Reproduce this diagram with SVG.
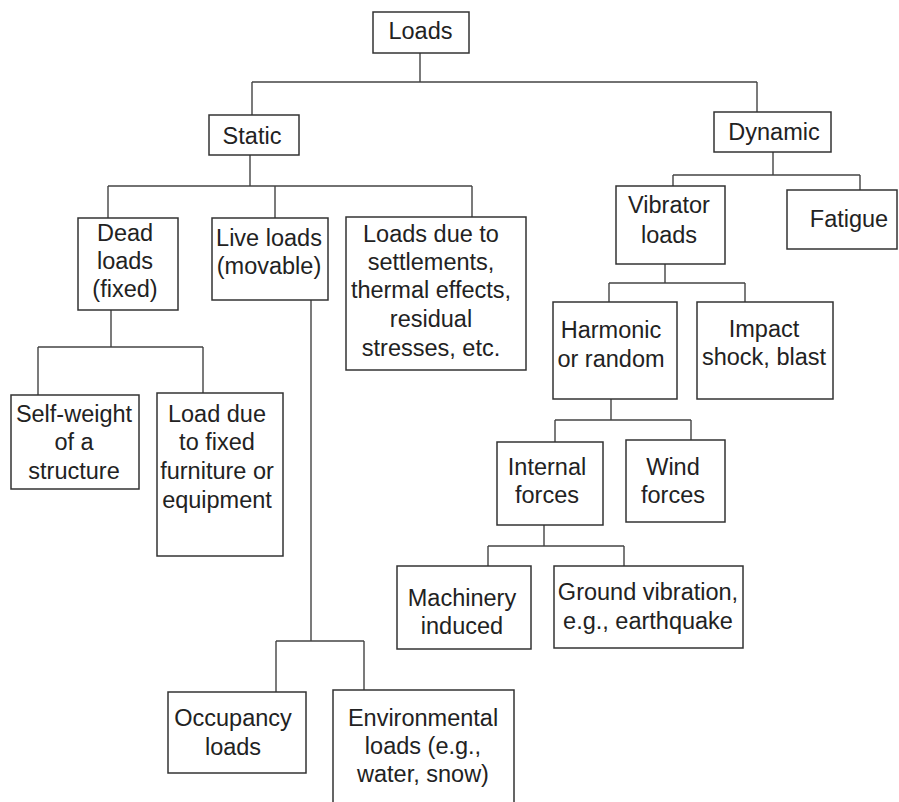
<svg xmlns="http://www.w3.org/2000/svg" width="899" height="802" viewBox="0 0 899 802">
<style>
.box{fill:#fff;stroke:#333;stroke-width:1.5}
.ln{fill:none;stroke:#444;stroke-width:1.4}
text{font-family:"Liberation Sans",Arial,sans-serif;font-size:23.5px;fill:#222;text-anchor:middle}
</style>
<rect width="899" height="802" fill="#fff"/>
<g id="connectors">
<path class="ln" d="M420,53V82M252,82H757M252,82V115M757,82V112"/>
<path class="ln" d="M250,155V186M108,186H472M108,186V218M275,186V218M472,186V217"/>
<path class="ln" d="M111,310V347M38,347H203M38,347V395M203,347V393"/>
<path class="ln" d="M311,300V641M276,641H364M276,641V692M364,641V690"/>
<path class="ln" d="M773,152V175M673,175H860M673,175V186M860,175V190"/>
<path class="ln" d="M665,264V283M609,283H745M609,283V302M745,283V302"/>
<path class="ln" d="M611,399V420M555,420H691M555,420V442M691,420V440"/>
<path class="ln" d="M544,525V546M488,546H624M488,546V566M624,546V566"/>
</g>
<g id="loads"><rect class="box" x="373" y="12" width="96" height="41"/><text x="420.5" y="39">Loads</text></g>
<g id="static"><rect class="box" x="209" y="115" width="90" height="40"/><text x="252" y="144">Static</text></g>
<g id="dynamic"><rect class="box" x="714" y="112" width="117" height="40"/><text x="774" y="140">Dynamic</text></g>
<g id="dead"><rect class="box" x="78" y="218" width="100" height="92"/><text x="125" y="241">Dead</text><text x="125" y="269">loads</text><text x="125" y="297">(fixed)</text></g>
<g id="live"><rect class="box" x="212" y="218" width="116" height="82"/><text x="269" y="246">Live loads</text><text x="269" y="274">(movable)</text></g>
<g id="settlements"><rect class="box" x="346" y="217" width="180" height="153"/><text x="431" y="242">Loads due to</text><text x="431" y="270">settlements,</text><text x="431" y="298">thermal effects,</text><text x="431" y="327">residual</text><text x="431" y="356">stresses, etc.</text></g>
<g id="selfweight"><rect class="box" x="11" y="395" width="128" height="94"/><text x="74" y="422">Self-weight</text><text x="74" y="450">of a</text><text x="74" y="479">structure</text></g>
<g id="furniture"><rect class="box" x="157" y="393" width="126" height="163"/><text x="217" y="422">Load due</text><text x="217" y="450">to fixed</text><text x="217" y="479">furniture or</text><text x="217" y="508">equipment</text></g>
<g id="occupancy"><rect class="box" x="168" y="692" width="138" height="81"/><text x="233" y="726">Occupancy</text><text x="233" y="755">loads</text></g>
<g id="environmental"><rect class="box" x="333" y="690" width="181" height="120"/><text x="423" y="726">Environmental</text><text x="423" y="754">loads (e.g.,</text><text x="423" y="782">water, snow)</text></g>
<g id="vibrator"><rect class="box" x="616" y="186" width="109" height="78"/><text x="669" y="213">Vibrator</text><text x="669" y="243">loads</text></g>
<g id="fatigue"><rect class="box" x="787" y="190" width="110" height="59"/><text x="849" y="227">Fatigue</text></g>
<g id="harmonic"><rect class="box" x="553" y="302" width="124" height="97"/><text x="611" y="338">Harmonic</text><text x="611" y="367">or random</text></g>
<g id="impact"><rect class="box" x="697" y="302" width="136" height="97"/><text x="764" y="337">Impact</text><text x="764" y="365">shock, blast</text></g>
<g id="internal"><rect class="box" x="497" y="442" width="106" height="83"/><text x="547" y="475">Internal</text><text x="547" y="503">forces</text></g>
<g id="wind"><rect class="box" x="626" y="440" width="99" height="82"/><text x="673" y="475">Wind</text><text x="673" y="503">forces</text></g>
<g id="machinery"><rect class="box" x="397" y="566" width="134" height="83"/><text x="462" y="606">Machinery</text><text x="462" y="634">induced</text></g>
<g id="ground"><rect class="box" x="554" y="566" width="189" height="82"/><text x="648" y="600">Ground vibration,</text><text x="648" y="629">e.g., earthquake</text></g>
</svg>
